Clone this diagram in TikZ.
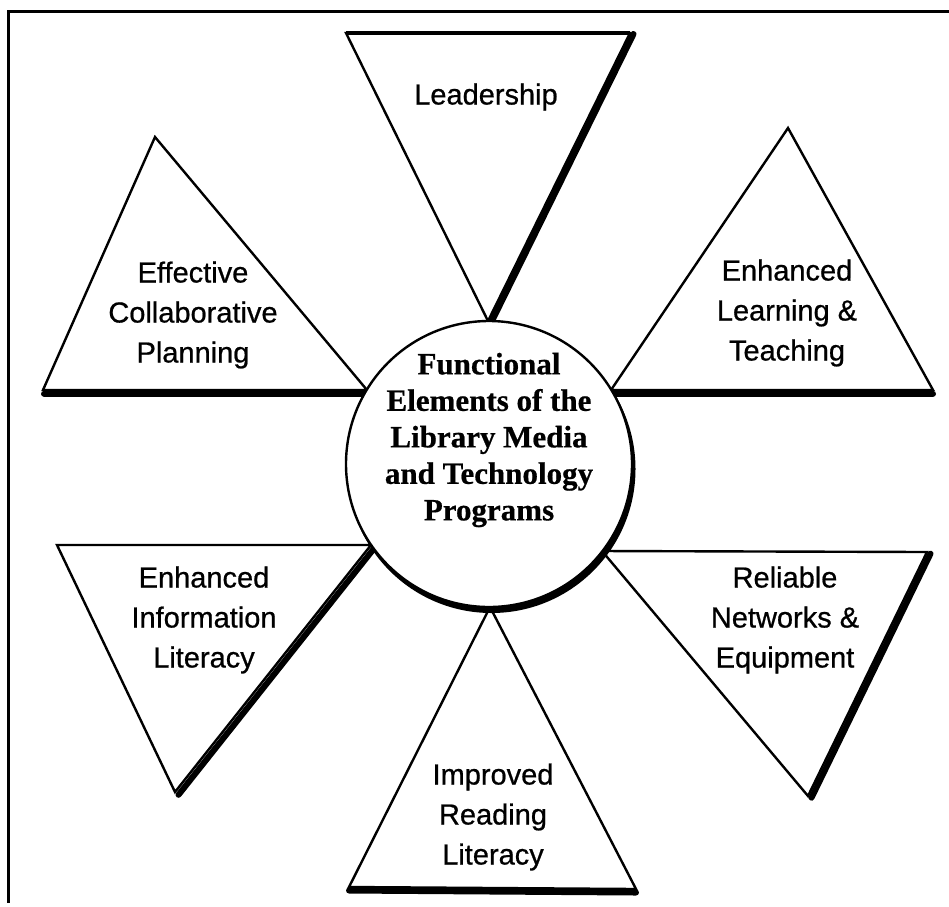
\documentclass[tikz,border=0pt]{standalone}
\usepackage{fontspec}
\setmainfont{Liberation Sans}
\newfontfamily\lblfont{Liberation Sans}[FakeBold=0.7]
\newfontfamily\serifbold{Liberation Serif}[BoldFeatures={FakeBold=0.6}]
\usetikzlibrary{calc}
\begin{document}
\begin{tikzpicture}[x=1pt,y=-1pt,
  tri/.style={line width=2.4pt, line join=miter},
  shadowedge/.style={line width=6pt, line cap=round},
  lbl/.style={align=center, font=\lblfont\fontsize{29}{40}\selectfont, inner sep=0pt},
]
\useasboundingbox (0,0) rectangle (949,906);
\fill[white] (0,0) rectangle (949,906);
% frame (top and left edges visible)
\coordinate (FR) at (949,11);
\coordinate (FC) at (8,11);
\coordinate (FB) at (8,903);
\draw[line width=3pt] (FR) -- (FC) -- (FB);

% Leadership
\coordinate (L1) at (346,33); \coordinate (L2) at (630,33); \coordinate (L3) at (488,321);
\draw[tri] (L1) -- (L2) -- (L3) -- cycle;
\draw[line width=3.5pt] (L1) -- (L2);
\draw[shadowedge] ($(L2)+(3.5,1)$) -- ($(L3)+(3.5,1)$);

% Effective Collaborative Planning
\coordinate (E1) at (155,137); \coordinate (E2) at (43,390); \coordinate (E3) at (367,390);
\draw[tri] (E1) -- (E2) -- (E3) -- cycle;
\draw[shadowedge] ($(E2)+(1,3.5)$) -- ($(E3)+(0,3.5)$);

% Enhanced Learning & Teaching
\coordinate (T1) at (788,128); \coordinate (T2) at (611,390); \coordinate (T3) at (933,390);
\draw[tri] (T1) -- (T2) -- (T3) -- cycle;
\draw[shadowedge] ($(T2)+(0,3.5)$) -- ($(T3)+(0,3.5)$);

% Enhanced Information Literacy
\coordinate (I1) at (57,545); \coordinate (I2) at (371,545); \coordinate (I3) at (175,792);
\draw[tri] (I1) -- (I2) -- (I3) -- cycle;
\draw[shadowedge] ($(I2)+(3.5,2.8)$) -- ($(I3)+(3.5,2.8)$);

% Reliable Networks & Equipment
\coordinate (R1) at (602,551); \coordinate (R2) at (927,552); \coordinate (R3) at (808,796);
\draw[tri] (R1) -- (R2) -- (R3) -- cycle;
\draw[shadowedge] ($(R2)+(3.5,1.7)$) -- ($(R3)+(3.5,1.7)$);

% Improved Reading Literacy
\coordinate (P1) at (490,607); \coordinate (P2) at (349,887); \coordinate (P3) at (636,889);
\draw[tri] (P1) -- (P2) -- (P3) -- cycle;
\draw[shadowedge] ($(P2)+(0,3.5)$) -- ($(P3)+(0,3.5)$);

% central circle with shadow
\fill (491.5,469) circle (144);
\node[circle, draw, line width=2.4pt, fill=white, minimum size=286pt, inner sep=0pt] (C) at (489,464) {};

% labels
\node[lbl] (tLead) at (486,97) {Leadership};
\node[lbl] (tEff) at (193,315) {Effective\\Collaborative\\Planning};
\node[lbl] (tLearn) at (787,313) {Enhanced\\Learning \&\\Teaching};
\node[lbl] (tInfo) at (204,620) {Enhanced\\Information\\Literacy};
\node[lbl] (tRel) at (785,620) {Reliable\\Networks \&\\Equipment};
\node[lbl] (tRead) at (493,817) {Improved\\Reading\\Literacy};
\node[align=center, inner sep=0pt, font=\serifbold\bfseries\fontsize{31}{36.5}\selectfont] (tCenter) at (489,440) {Functional\\Elements of the\\Library Media\\and Technology\\Programs};
\end{tikzpicture}
\end{document}
